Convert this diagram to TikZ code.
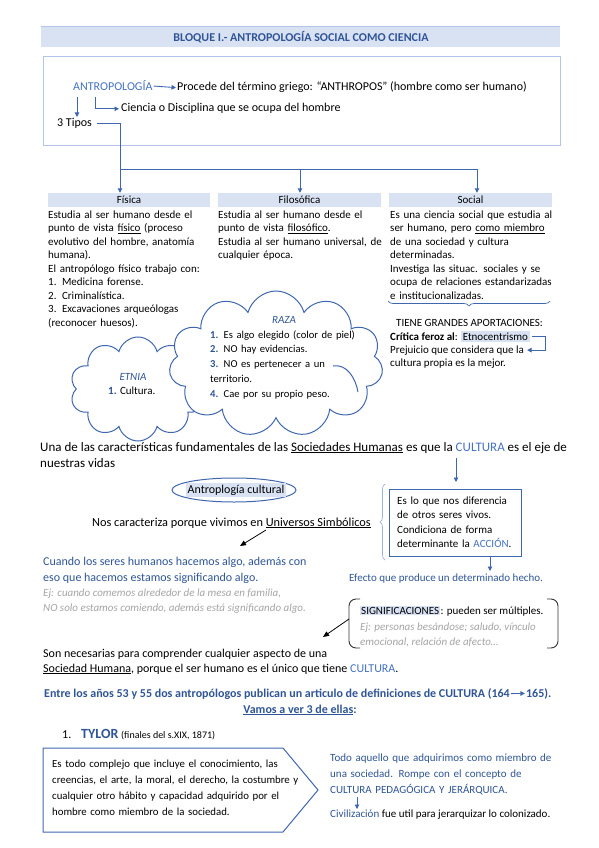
\documentclass[tikz,border=0pt]{standalone}
\usepackage{fontspec}
\setmainfont{Carlito}
\usetikzlibrary{shapes.symbols,shapes.geometric,arrows.meta,decorations.pathreplacing}
\definecolor{tblue}{HTML}{2F5597}
\definecolor{lblue}{HTML}{4472C4}
\definecolor{ablue}{HTML}{3F67B0}
\definecolor{hblue}{HTML}{D9E2F3}
\definecolor{gtext}{HTML}{A5A5A5}
\definecolor{bline}{HTML}{B4C6E7}
\begin{document}
\begin{tikzpicture}[x=1pt,y=-1pt,
  every node/.style={inner sep=0pt},
  t12/.style={anchor=base west,font=\fontsize{12}{16}\selectfont},
  t11/.style={anchor=base west,font=\fontsize{11}{13.5}\selectfont},
  multi/.style={align=left,text width=#1},
  barr/.style={draw=ablue,line width=0.9pt,-{Triangle[length=4.5pt,width=4.5pt]}},
  bl/.style={draw=ablue,line width=0.9pt},
  karr/.style={draw=black,line width=0.8pt,-{Triangle[length=6pt,width=5pt]}},
  hdr/.style={fill=hblue,minimum height=14pt,font=\fontsize{11}{13}\selectfont},
  cloudst/.style={cloud,cloud ignores aspect,draw=ablue,line width=1pt,fill=white,cloud puffs=#1},
]
\useasboundingbox[fill=white] (0,0) rectangle (599,848);

% title
\fill[hblue] (41,27) rectangle (560,47);
\draw[bline,line width=1pt] (41,27) -- (560,27);
\node[font=\bfseries\fontsize{12}{14}\selectfont,text=tblue] (title) at (301,37.5) {BLOQUE I.- ANTROPOLOGÍA SOCIAL COMO CIENCIA};

% main box
\draw[bline,line width=1pt] (43,57) rectangle (560,145);
\node[t12,text=lblue] (antro) at (73,91) {ANTROPOLOGÍA};
\node[t12] (proc) at (177,91) {Procede del término griego: “ANTHROPOS” (hombre como ser humano)};
\draw[barr] ([xshift=1pt]antro.east) -- ([xshift=-1pt]proc.west);
\node[t12] (cien) at (121,112) {Ciencia o Disciplina que se ocupa del hombre};
\coordinate (el) at (95,97);
\draw[barr] (el) |- ([xshift=-2pt]cien.west);
\node[t12] (tipos) at (57,127) {3 Tipos};
\coordinate (dtop) at (77,97);
\coordinate (dbot) at (77,117);
\draw[barr] (dtop) -- (dbot);

% three types
\node[hdr,minimum width=162pt] (fis) at (129,200) {Física};
\node[hdr,minimum width=163pt] (filo) at (299.5,200) {Filosófica};
\node[hdr,minimum width=163pt] (soc) at (470.5,200) {Social};
\coordinate (j1) at (120,169);
\coordinate (j2) at (300,169);
\coordinate (j3) at (477,169);
\draw[bl] ([xshift=5pt]tipos.east) -| (j1) -- (j3);
\draw[barr] (j1) -- (j1 |- fis.north);
\draw[barr] (j2) -- (j2 |- filo.north);
\draw[barr] (j3) -- (j3 |- soc.north);

\node[t11,multi=170pt] (fist) at (48,218) {Estudia al ser humano desde el\\
punto de vista \underline{físico} (proceso\\
evolutivo del hombre, anatomía\\
humana).\\
El antropólogo físico trabajo con:\\
1. Medicina forense.\\
2. Criminalística.\\
3. Excavaciones arqueólogas\\
(reconocer huesos).};
\node[t11,multi=170pt] (filot) at (218,218) {Estudia al ser humano desde el\\
punto de vista \underline{filosófico}.\\
Estudia al ser humano universal, de\\
cualquier época.};
\node[t11,multi=170pt] (soct) at (390,218) {Es una ciencia social que estudia al\\
ser humano, pero \underline{como miembro}\\
de una sociedad y cultura\\
determinadas.\\
Investiga las situac. sociales y se\\
ocupa de relaciones estandarizadas\\
e institucionalizadas.};
\draw[ablue,line width=0.7pt,decorate,decoration={brace,mirror,amplitude=5pt}] (388,301) -- (550,301);
\node[t11] (tiene) at (396,326) {TIENE GRANDES APORTACIONES:};
\node[t11] (crit) at (390,340) {\textbf{Crítica feroz al}:};
\node[t11,fill=hblue,inner sep=1.5pt] (etno) at ([xshift=3pt]crit.base east) {Etnocentrismo};
\node[t11] (prej) at (390,353) {Prejuicio que considera que la};
\node[t11] (cultp) at (390,366) {cultura propia es la mejor.};
\draw[barr] ([xshift=2pt]etno.east) -- ++(14,0) |- ([xshift=3pt]prej.east);

% clouds
\node[cloudst=10,minimum width=136pt,minimum height=104pt] (etnia) at (138,389) {};
\node[cloudst=11,minimum width=214pt,minimum height=146pt] (raza) at (276,364) {};
\draw[ablue,line width=1pt] (333,366) to[out=10,in=100] (358,392);
\node[font=\itshape\fontsize{11}{13}\selectfont,text=tblue] (etl) at (133,377) {ETNIA};
\node[t11] (et1) at (108,394) {\textcolor{tblue}{\textbf{1.}} Cultura.};
\node[font=\itshape\fontsize{11}{13}\selectfont,text=tblue] (razl) at (284,320) {RAZA};
\node[t11,multi=160pt,font=\fontsize{10.6}{14.8}\selectfont] (razt) at (210,338) {\textcolor{tblue}{\textbf{1.}} Es algo elegido (color de piel)\\
\textcolor{tblue}{\textbf{2.}} NO hay evidencias.\\
\textcolor{tblue}{\textbf{3.}} NO es pertenecer a un\\
territorio.\\
\textcolor{tblue}{\textbf{4.}} Cae por su propio peso.};

% cultura
\node[t12,font=\fontsize{13}{16}\selectfont] (una) at (40,451) {Una de las características fundamentales de las \underline{Sociedades Humanas} es que la \textcolor{lblue}{CULTURA} es el eje de};
\node[t12,font=\fontsize{13}{16}\selectfont] (vidas) at (40,467) {nuestras vidas};
\coordinate (ca) at (456,458);
\coordinate (cb) at (456,482);
\draw[barr] (ca) -- (cb);
\node[ellipse,draw=ablue,line width=1pt,minimum width=124pt,minimum height=24pt] (ellip) at (234,490) {};
\node[fill=hblue,inner sep=1.5pt,font=\fontsize{12}{14}\selectfont] (ac) at (236,490) {Antroplogía cultural};
\node[t12,font=\fontsize{12.3}{16}\selectfont] (nos) at (92,526) {Nos caracteriza porque vivimos en \underline{Universos Simbólicos}};
\coordinate (ka) at (266,530);
\coordinate (kb) at (240,546);
\draw[karr] (ka) -- (kb);

\draw[bline!80!ablue,line width=0.7pt,decorate,decoration={brace,amplitude=5pt}] (385,560) -- (385,484);
\node[draw=ablue,line width=1pt,minimum width=132pt,minimum height=67pt] (dif) at (455,522.5) {};
\node[t11,multi=125pt,font=\fontsize{11}{14.5}\selectfont] (dift) at (397,504) {Es lo que nos diferencia\\
de otros seres vivos.\\
Condiciona de forma\\
determinante la \textcolor{lblue}{ACCIÓN}.};
\coordinate (da) at (490,556);
\draw[barr] (da) -- ++(0,15) coordinate (db);
\node[t11,text=tblue] (efe) at (349,581) {Efecto que produce un determinado hecho.};

\node[t12,text=tblue] (cua1) at (43,565) {Cuando los seres humanos hacemos algo, además con};
\node[t12,text=tblue] (cua2) at (43,581) {eso que hacemos estamos significando algo.};
\node[t11,text=gtext,font=\itshape\fontsize{11}{13}\selectfont] (ej1) at (43,596) {Ej: cuando comemos alrededor de la mesa en familia,};
\node[t11,text=gtext,font=\itshape\fontsize{11}{13}\selectfont] (ej2) at (43,611) {NO solo estamos comiendo, además está significando algo.};

% significaciones
\draw[black!80,line width=0.9pt,rounded corners=7pt] (360,599) -- (349,599) -- (349,648) -- (360,648);
\draw[black!80,line width=0.9pt,rounded corners=7pt] (547,599) -- (558,599) -- (558,648) -- (547,648);
\node[t11,fill=hblue,inner sep=1pt] (sigw) at (360,614) {SIGNIFICACIONES};
\node[t11] (sigr) at (sigw.base east) {: pueden ser múltiples.};
\node[t11,text=gtext,font=\itshape\fontsize{11}{13}\selectfont] (sig2) at (360,630) {Ej: personas besándose; saludo, vínculo};
\node[t11,text=gtext,font=\itshape\fontsize{11}{13}\selectfont] (sig3) at (360,645) {emocional, relación de afecto…};
\coordinate (sa) at (349,619);
\coordinate (sb) at (323,637);
\draw[karr] (sa) -- (sb);

\node[t12] (son1) at (43,657) {Son necesarias para comprender cualquier aspecto de una};
\node[t12] (son2) at (43,672) {\underline{Sociedad Humana}, porque el ser humano es el único que tiene \textcolor{lblue}{CULTURA}.};

\node[t12,font=\bfseries\fontsize{12}{14}\selectfont,text=tblue] (ent1) at (44,697) {Entre los años 53 y 55 dos antropólogos publican un articulo de definiciones de CULTURA (164};
\node[t12,font=\bfseries\fontsize{12}{14}\selectfont,text=tblue] (ent2) at ([xshift=16pt]ent1.base east) {165).};
\draw[barr] ([xshift=1pt]ent1.east) -- ([xshift=-1pt]ent2.west);
\node[anchor=base,font=\bfseries\fontsize{12}{14}\selectfont,text=tblue] (vamos) at (300,713) {\underline{Vamos a ver 3 de ellas}:};

\node[t12] (n1) at (62,738) {1.};
\node[anchor=base west,font=\bfseries\fontsize{14}{16}\selectfont,text=tblue] (tylor) at (81,738) {TYLOR};
\node[anchor=base west,font=\fontsize{10}{12}\selectfont] (fin) at (121,738) {(finales del s.XIX, 1871)};

\draw[ablue,line width=1pt] (43,748) -- (283,748) -- (318,790) -- (283,832) -- (43,832) -- cycle;
\node[t11,multi=290pt,font=\fontsize{10.8}{16}\selectfont] (ty) at (52,767) {Es todo complejo que incluye el conocimiento, las\\
creencias, el arte, la moral, el derecho, la costumbre y\\
cualquier otro hábito y capacidad adquirido por el\\
hombre como miembro de la sociedad.};
\node[t11,multi=240pt,font=\fontsize{11}{16}\selectfont,text=tblue] (todo) at (330,761) {Todo aquello que adquirimos como miembro de\\
una sociedad. Rompe con el concepto de\\
CULTURA PEDAGÓGICA Y JERÁRQUICA.};
\coordinate (ta) at (357,797);
\coordinate (tb) at (357,809);
\draw[barr] (ta) -- (tb);
\node[t11] (civ) at (330,817) {\textcolor{tblue}{Civilización} fue util para jerarquizar lo colonizado.};
\end{tikzpicture}
\end{document}
